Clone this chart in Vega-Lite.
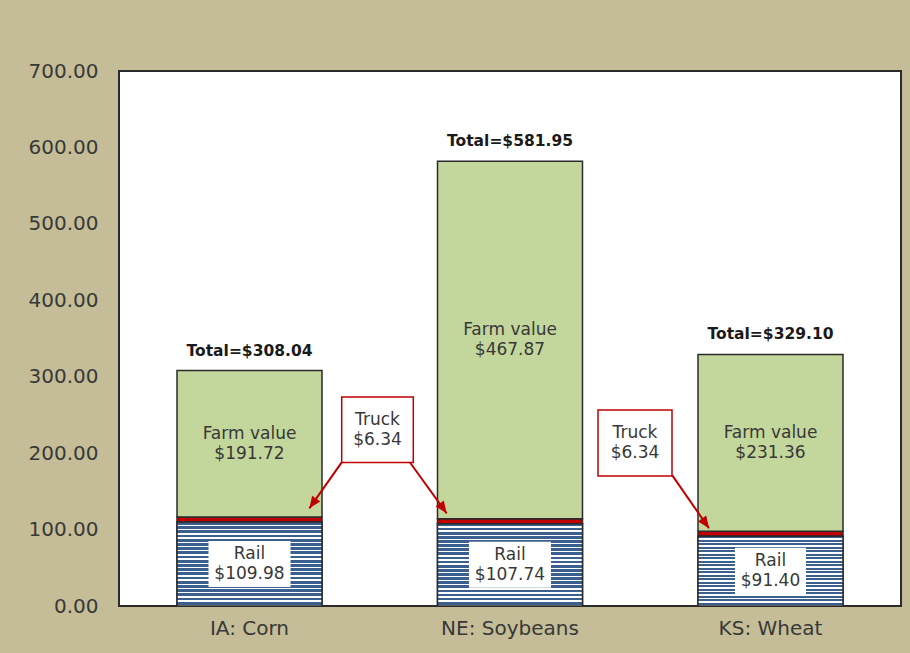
{
  "$schema": "https://vega.github.io/schema/vega-lite/v6.json",
  "width": 782,
  "height": 535,
  "autosize": {"type": "none"},
  "padding": {"left": 119, "top": 71, "right": 9, "bottom": 47},
  "background": "#C4BD97",
  "config": {
    "view": {"fill": "white", "stroke": "#2b2b2b", "strokeWidth": 2},
    "font": "DejaVu Sans"
  },
  "datasets": {
    "segments": [
      {"crop": "IA: Corn", "seg": "Rail", "ord": 1, "value": 109.98, "label": "Rail\n$109.98"},
      {"crop": "IA: Corn", "seg": "Truck", "ord": 2, "value": 6.34, "label": ""},
      {"crop": "IA: Corn", "seg": "Farm value", "ord": 3, "value": 191.72, "label": "Farm value\n$191.72"},
      {"crop": "NE: Soybeans", "seg": "Rail", "ord": 1, "value": 107.74, "label": "Rail\n$107.74"},
      {"crop": "NE: Soybeans", "seg": "Truck", "ord": 2, "value": 6.34, "label": ""},
      {"crop": "NE: Soybeans", "seg": "Farm value", "ord": 3, "value": 467.87, "label": "Farm value\n$467.87"},
      {"crop": "KS: Wheat", "seg": "Rail", "ord": 1, "value": 91.40, "label": "Rail\n$91.40"},
      {"crop": "KS: Wheat", "seg": "Truck", "ord": 2, "value": 6.34, "label": ""},
      {"crop": "KS: Wheat", "seg": "Farm value", "ord": 3, "value": 231.36, "label": "Farm value\n$231.36"}
    ],
    "totals": [
      {"crop": "IA: Corn", "total": 308.04, "label": "Total=$308.04"},
      {"crop": "NE: Soybeans", "total": 581.95, "label": "Total=$581.95"},
      {"crop": "KS: Wheat", "total": 329.10, "label": "Total=$329.10"}
    ],
    "boxes": [
      {"x": 0.8543, "x2": 1.1290, "y": 273.5, "y2": 187.8, "xc": 0.9917, "yc": 230.6, "label": "Truck\n$6.34"},
      {"x": 1.8376, "x2": 2.1215, "y": 256.4, "y2": 170.1, "xc": 1.9795, "yc": 213.3, "label": "Truck\n$6.34"}
    ],
    "arrows": [
      {"x": 0.8543, "y": 188.0, "x2": 0.7301, "y2": 127.8},
      {"x": 1.1164, "y": 187.8, "x2": 1.2571, "y2": 121.3},
      {"x": 2.1226, "y": 171.0, "x2": 2.2634, "y2": 101.7}
    ],
    "heads_left": [
      {"x": 0.7435, "y": 134.2}
    ],
    "heads_right": [
      {"x": 1.2437, "y": 127.7},
      {"x": 2.2504, "y": 108.1}
    ]
  },
  "resolve": {"scale": {"x": "independent"}, "axis": {"x": "independent"}},
  "layer": [
    {
      "data": {"name": "segments"},
      "encoding": {
        "x": {
          "field": "crop",
          "type": "nominal",
          "title": null,
          "scale": {"domain": ["IA: Corn", "NE: Soybeans", "KS: Wheat"], "paddingInner": 0.4434, "paddingOuter": 0.2227},
          "axis": {"labelFontSize": 20, "labelColor": "#383838", "labelFont": "DejaVu Sans", "ticks": false, "tickSize": 0, "domain": false, "labelPadding": 12, "labelAngle": 0, "grid": false}
        }
      },
      "layer": [
        {
          "mark": {"type": "bar", "stroke": "#2b2b2b", "strokeWidth": 1.5},
          "encoding": {
            "y": {
              "field": "value",
              "type": "quantitative",
              "stack": "zero",
              "title": null,
              "scale": {"domain": [0, 700], "nice": false},
              "axis": {"values": [0, 100, 200, 300, 400, 500, 600, 700], "format": ".2f", "labelFontSize": 20, "labelColor": "#383838", "labelFont": "DejaVu Sans", "ticks": false, "tickSize": 0, "domain": false, "grid": false, "labelPadding": 21}
            },
            "fill": {"field": "seg", "type": "nominal", "scale": {"domain": ["Rail", "Truck", "Farm value"], "range": ["#3B5F8F", "#C00000", "#C3D69B"]}, "legend": null},
            "order": {"field": "ord", "type": "quantitative"}
          }
        },
        {
          "transform": [{"filter": "datum.seg === 'Rail'"}],
          "mark": {
            "type": "bar",
            "stroke": "#2b2b2b",
            "strokeWidth": 1.5,
            "fill": {
              "gradient": "linear", "x1": 0, "y1": 0, "x2": 0, "y2": 1,
              "stops": [
                {"offset": 0, "color": "#3B5F8F"}, {"offset": 0.033, "color": "#3B5F8F"}, {"offset": 0.033, "color": "#ffffff"}, {"offset": 0.05, "color": "#ffffff"},
                {"offset": 0.05, "color": "#3B5F8F"}, {"offset": 0.083, "color": "#3B5F8F"}, {"offset": 0.083, "color": "#ffffff"}, {"offset": 0.1, "color": "#ffffff"},
                {"offset": 0.1, "color": "#3B5F8F"}, {"offset": 0.133, "color": "#3B5F8F"}, {"offset": 0.133, "color": "#ffffff"}, {"offset": 0.15, "color": "#ffffff"},
                {"offset": 0.15, "color": "#3B5F8F"}, {"offset": 0.183, "color": "#3B5F8F"}, {"offset": 0.183, "color": "#ffffff"}, {"offset": 0.2, "color": "#ffffff"},
                {"offset": 0.2, "color": "#3B5F8F"}, {"offset": 0.233, "color": "#3B5F8F"}, {"offset": 0.233, "color": "#ffffff"}, {"offset": 0.25, "color": "#ffffff"},
                {"offset": 0.25, "color": "#3B5F8F"}, {"offset": 0.283, "color": "#3B5F8F"}, {"offset": 0.283, "color": "#ffffff"}, {"offset": 0.3, "color": "#ffffff"},
                {"offset": 0.3, "color": "#3B5F8F"}, {"offset": 0.333, "color": "#3B5F8F"}, {"offset": 0.333, "color": "#ffffff"}, {"offset": 0.35, "color": "#ffffff"},
                {"offset": 0.35, "color": "#3B5F8F"}, {"offset": 0.383, "color": "#3B5F8F"}, {"offset": 0.383, "color": "#ffffff"}, {"offset": 0.4, "color": "#ffffff"},
                {"offset": 0.4, "color": "#3B5F8F"}, {"offset": 0.433, "color": "#3B5F8F"}, {"offset": 0.433, "color": "#ffffff"}, {"offset": 0.45, "color": "#ffffff"},
                {"offset": 0.45, "color": "#3B5F8F"}, {"offset": 0.483, "color": "#3B5F8F"}, {"offset": 0.483, "color": "#ffffff"}, {"offset": 0.5, "color": "#ffffff"},
                {"offset": 0.5, "color": "#3B5F8F"}, {"offset": 0.533, "color": "#3B5F8F"}, {"offset": 0.533, "color": "#ffffff"}, {"offset": 0.55, "color": "#ffffff"},
                {"offset": 0.55, "color": "#3B5F8F"}, {"offset": 0.583, "color": "#3B5F8F"}, {"offset": 0.583, "color": "#ffffff"}, {"offset": 0.6, "color": "#ffffff"},
                {"offset": 0.6, "color": "#3B5F8F"}, {"offset": 0.633, "color": "#3B5F8F"}, {"offset": 0.633, "color": "#ffffff"}, {"offset": 0.65, "color": "#ffffff"},
                {"offset": 0.65, "color": "#3B5F8F"}, {"offset": 0.683, "color": "#3B5F8F"}, {"offset": 0.683, "color": "#ffffff"}, {"offset": 0.7, "color": "#ffffff"},
                {"offset": 0.7, "color": "#3B5F8F"}, {"offset": 0.733, "color": "#3B5F8F"}, {"offset": 0.733, "color": "#ffffff"}, {"offset": 0.75, "color": "#ffffff"},
                {"offset": 0.75, "color": "#3B5F8F"}, {"offset": 0.783, "color": "#3B5F8F"}, {"offset": 0.783, "color": "#ffffff"}, {"offset": 0.8, "color": "#ffffff"},
                {"offset": 0.8, "color": "#3B5F8F"}, {"offset": 0.833, "color": "#3B5F8F"}, {"offset": 0.833, "color": "#ffffff"}, {"offset": 0.85, "color": "#ffffff"},
                {"offset": 0.85, "color": "#3B5F8F"}, {"offset": 0.883, "color": "#3B5F8F"}, {"offset": 0.883, "color": "#ffffff"}, {"offset": 0.9, "color": "#ffffff"},
                {"offset": 0.9, "color": "#3B5F8F"}, {"offset": 0.933, "color": "#3B5F8F"}, {"offset": 0.933, "color": "#ffffff"}, {"offset": 0.95, "color": "#ffffff"},
                {"offset": 0.95, "color": "#3B5F8F"}, {"offset": 0.983, "color": "#3B5F8F"}, {"offset": 0.983, "color": "#ffffff"}, {"offset": 1, "color": "#ffffff"}
              ]
            }
          },
          "encoding": {
            "y": {"field": "value", "type": "quantitative", "stack": "zero", "title": null}
          }
        },
        {
          "transform": [{"filter": "datum.seg === 'Rail' && datum.crop !== 'KS: Wheat'"}],
          "mark": {"type": "point", "shape": "M-1,-0.561L1,-0.561L1,0.561L-1,0.561Z", "size": 6724, "filled": true, "fill": "white", "opacity": 1, "strokeWidth": 0},
          "encoding": {
            "y": {"field": "value", "type": "quantitative", "stack": "zero", "bandPosition": 0.5, "title": null}
          }
        },
        {
          "transform": [{"filter": "datum.seg === 'Rail' && datum.crop === 'KS: Wheat'"}],
          "mark": {"type": "point", "shape": "M-1,-0.658L1,-0.658L1,0.658L-1,0.658Z", "size": 5041, "filled": true, "fill": "white", "opacity": 1, "strokeWidth": 0},
          "encoding": {
            "y": {"field": "value", "type": "quantitative", "stack": "zero", "bandPosition": 0.5, "title": null}
          }
        },
        {
          "mark": {"type": "text", "lineBreak": "\n", "fontSize": 17, "lineHeight": 20, "color": "#383838", "baseline": "middle", "dy": -10, "font": "DejaVu Sans"},
          "encoding": {
            "y": {"field": "value", "type": "quantitative", "stack": "zero", "bandPosition": 0.5, "title": null},
            "detail": {"field": "seg", "type": "nominal"},
            "order": {"field": "ord", "type": "quantitative"},
            "text": {"field": "label", "type": "nominal"}
          }
        },
        {
          "data": {"name": "totals"},
          "mark": {"type": "text", "fontSize": 15.5, "fontWeight": "bold", "color": "#1a1a1a", "baseline": "middle", "dy": -20, "font": "DejaVu Sans"},
          "encoding": {
            "y": {"field": "total", "type": "quantitative", "title": null},
            "text": {"field": "label", "type": "nominal"}
          }
        }
      ]
    },
    {
      "layer": [
        {
          "data": {"name": "arrows"},
          "mark": {"type": "rule", "color": "#C00000", "strokeWidth": 2},
          "encoding": {
            "x": {"field": "x", "type": "quantitative", "title": null, "scale": {"domain": [0, 3], "nice": false, "zero": false}, "axis": null},
            "x2": {"field": "x2"},
            "y": {"field": "y", "type": "quantitative", "title": null},
            "y2": {"field": "y2"}
          }
        },
        {
          "data": {"name": "heads_left"},
          "mark": {"type": "point", "shape": "M0,-1.2L-1,1.2L1,1.2Z", "size": 100, "filled": true, "fill": "#C00000", "opacity": 1, "strokeWidth": 0, "angle": 215},
          "encoding": {
            "x": {"field": "x", "type": "quantitative", "title": null, "axis": null},
            "y": {"field": "y", "type": "quantitative", "title": null}
          }
        },
        {
          "data": {"name": "heads_right"},
          "mark": {"type": "point", "shape": "M0,-1.2L-1,1.2L1,1.2Z", "size": 100, "filled": true, "fill": "#C00000", "opacity": 1, "strokeWidth": 0, "angle": 144.5},
          "encoding": {
            "x": {"field": "x", "type": "quantitative", "title": null, "axis": null},
            "y": {"field": "y", "type": "quantitative", "title": null}
          }
        },
        {
          "data": {"name": "boxes"},
          "mark": {"type": "rect", "fill": "white", "stroke": "#C00000", "strokeWidth": 1.5},
          "encoding": {
            "x": {"field": "x", "type": "quantitative", "title": null, "axis": null},
            "x2": {"field": "x2"},
            "y": {"field": "y", "type": "quantitative", "title": null},
            "y2": {"field": "y2"}
          }
        },
        {
          "data": {"name": "boxes"},
          "mark": {"type": "text", "lineBreak": "\n", "fontSize": 17, "lineHeight": 20, "color": "#383838", "baseline": "middle", "dy": -10, "font": "DejaVu Sans"},
          "encoding": {
            "x": {"field": "xc", "type": "quantitative", "title": null, "axis": null},
            "y": {"field": "yc", "type": "quantitative", "title": null},
            "text": {"field": "label", "type": "nominal"}
          }
        }
      ]
    }
  ]
}
